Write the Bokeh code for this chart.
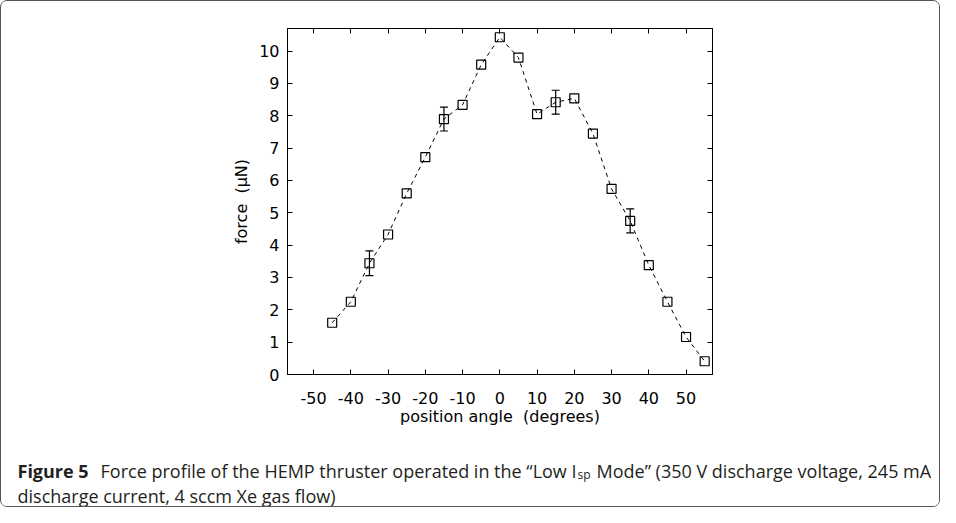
from bokeh.plotting import figure
from bokeh.layouts import column
from bokeh.models import (ColumnDataSource, Whisker, TeeHead, LinearAxis, FixedTicker,
                          Range1d, CustomJSTickFormatter)
from bokeh.core.properties import value
from bokeh.embed import file_html
from bokeh.resources import INLINE

# ---------------- data ----------------
angles = [-45, -40, -35, -30, -25, -20, -15, -10, -5, 0, 5, 10, 15, 20, 25, 30, 35, 40, 45, 50, 55]
force = [1.60, 2.25, 3.44, 4.33, 5.60, 6.72, 7.90, 8.34, 9.58, 10.43, 9.80, 8.05, 8.42,
         8.54, 7.45, 5.74, 4.75, 3.38, 2.25, 1.16, 0.41]
err_angles = [-35, -15, 15, 35]
err_force = [3.44, 7.90, 8.42, 4.75]
err_size = [0.38, 0.37, 0.37, 0.37]

x_ticks = [-50, -40, -30, -20, -10, 0, 10, 20, 30, 40, 50]
y_ticks = [0, 1, 2, 3, 4, 5, 6, 7, 8, 9, 10]

x_label = "position angle\u00a0\u00a0(degrees)"
y_label = "force\u00a0\u00a0(\u00b5N)"

cap_bold = "Figure 5"
cap_a = "Force profile of the HEMP thruster operated in the \u201cLow I"
cap_sub = "sp"
cap_b = "Mode\u201d (350 V discharge voltage, 245 mA"
cap_line2 = "discharge current, 4 sccm Xe gas flow)"

# ---------------- layout ----------------
BORDER = 1                       # css border drawn outside the content
W, H = 938, 505                  # content size (940 x 507 with border)
PLOT_BOTTOM = 440                # page y where caption strip starts
FL, FT, FR, FB = 287, 28, 712, 374   # frame edges in page pixels

plot_h = PLOT_BOTTOM - BORDER
p = figure(width=W, height=plot_h, x_range=Range1d(-57, 57.1), y_range=Range1d(0, 10.7),
           output_backend="svg", toolbar_location=None,
           min_border_left=FL - BORDER, min_border_right=(W + BORDER) - FR,
           min_border_top=FT - BORDER, min_border_bottom=PLOT_BOTTOM - FB)
p.frame_align = False
p.grid.visible = False
p.outline_line_color = "black"
p.outline_line_width = 1
p.background_fill_color = "white"
p.border_fill_color = "white"

TICK_FONT = "DejaVu Sans"


def style_axis(ax):
    ax.axis_line_color = "black"
    ax.major_tick_in = 5
    ax.major_tick_out = 0
    ax.minor_tick_line_color = None
    ax.major_tick_line_color = "black"
    ax.major_label_text_font = TICK_FONT
    ax.major_label_text_font_size = "16px"
    ax.major_label_text_color = "black"
    ax.axis_label_text_font = TICK_FONT
    ax.axis_label_text_font_size = "16px"
    ax.axis_label_text_font_style = "normal"
    ax.axis_label_text_color = "black"


plain = "return String(tick)"

xb = p.xaxis[0]
xb.ticker = FixedTicker(ticks=x_ticks)
xb.formatter = CustomJSTickFormatter(code=plain)
xb.axis_label = x_label
xb.major_label_standoff = 17
xb.axis_label_standoff = 0
style_axis(xb)

yl = p.yaxis[0]
yl.ticker = FixedTicker(ticks=y_ticks)
yl.formatter = CustomJSTickFormatter(code=plain)
yl.axis_label = y_label
yl.major_label_standoff = 8
yl.axis_label_standoff = 5
style_axis(yl)

xt = LinearAxis(ticker=FixedTicker(ticks=x_ticks), formatter=CustomJSTickFormatter(code="return ''"))
style_axis(xt)
p.add_layout(xt, "above")
yr = LinearAxis(ticker=FixedTicker(ticks=y_ticks), formatter=CustomJSTickFormatter(code="return ''"))
style_axis(yr)
p.add_layout(yr, "right")

# ---------------- glyphs ----------------
src = ColumnDataSource(dict(x=angles, y=force))
p.line("x", "y", source=src, line_color="black", line_width=1, line_dash="4 4")
p.scatter("x", "y", source=src, marker="square", size=9, fill_color=None,
          line_color="black", line_width=1.2)

esrc = ColumnDataSource(dict(
    x=err_angles,
    upper=[v + e for v, e in zip(err_force, err_size)],
    lower=[v - e for v, e in zip(err_force, err_size)],
))
wh = Whisker(base="x", upper="upper", lower="lower", source=esrc, dimension="height",
             line_color="black", line_width=1.2,
             upper_head=TeeHead(size=8, line_color="black", line_width=1.2),
             lower_head=TeeHead(size=8, line_color="black", line_width=1.2))
p.add_layout(wh)

# ---------------- caption ----------------
cap_h = H - plot_h
c = figure(width=W, height=cap_h,
           x_range=Range1d(BORDER, BORDER + W),
           y_range=Range1d(PLOT_BOTTOM + cap_h, PLOT_BOTTOM),
           output_backend="svg", toolbar_location=None, x_axis_type=None, y_axis_type=None,
           min_border=0, min_border_left=0, min_border_right=0, min_border_top=0,
           min_border_bottom=0)
c.frame_align = False
c.grid.visible = False
c.outline_line_color = None
c.background_fill_color = "white"
c.border_fill_color = "white"

CAP_FONT = value("Open Sans")
CAP_COLOR = "#231f20"


def cap(text, x, y, size="18px", style="normal", align="left"):
    c.text(x=[x], y=[y], text=[text], text_font=CAP_FONT, text_font_size=size,
           text_font_style=style, text_color=CAP_COLOR, text_align=align,
           text_baseline="alphabetic")


cap(cap_bold, 17, 470, style="bold")
cap(cap_a, 576, 470, align="right")
cap(cap_sub, 577, 474, size="12px")
cap(cap_b, 596, 470)
cap(cap_line2, 17, 495)

page = column(p, c, spacing=0,
              styles={"border": "1px solid #555555", "border-radius": "7px",
                      "box-sizing": "content-box", "overflow": "hidden",
                      "background-color": "white"})

open("out.html", "w").write(file_html(page, INLINE))
